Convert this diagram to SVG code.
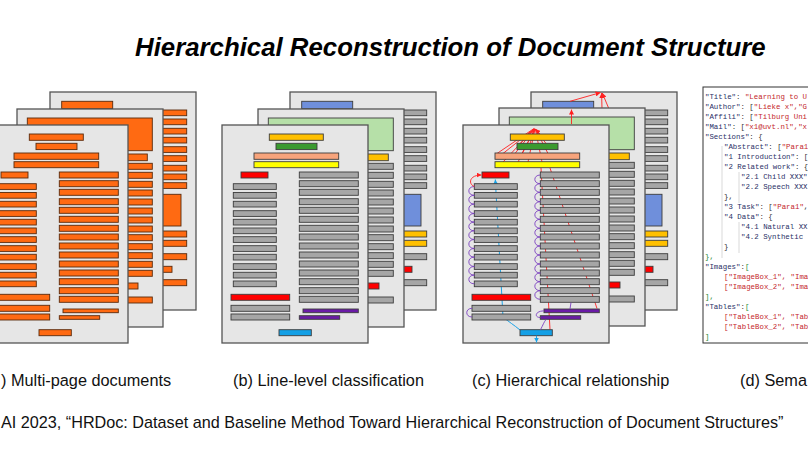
<svg xmlns="http://www.w3.org/2000/svg" xmlns:xlink="http://www.w3.org/1999/xlink" width="808" height="455" viewBox="0 0 808 455">
<style>
.page{fill:#e6e6e6;stroke:#555;stroke-width:1.3}
.bar{stroke:var(--bs,#3c3c3c);stroke-width:0.9}
.k-title{fill:var(--title,#ffc000)}
.k-auth{fill:var(--auth,#3b9a2f)}
.k-aff{fill:var(--aff,#f7a47c)}
.k-mail{fill:var(--mail,#ffff00)}
.k-sec{fill:var(--sec,#ff0000)}
.k-para{fill:var(--para,#a6a6a6)}
.k-cap{fill:var(--cap,#14a0e6)}
.k-foot{fill:var(--foot,#6a1ba6)}
.k-fig{fill:var(--fig,#b6e0a8)}
.k-tab{fill:var(--tab,#6f8fdb)}
.pa{--title:#ff6a12;--auth:#ff6a12;--aff:#ff6a12;--mail:#ff6a12;--sec:#ff6a12;--para:#ff6a12;--cap:#ff6a12;--foot:#ff6a12;--fig:#ff6a12;--tab:#ff6a12;--bs:#5a2a0c}
.title{font-family:"Liberation Sans",Arial,sans-serif;font-weight:bold;font-style:italic;font-size:25.8px;fill:#000}
.cap{font-family:"Liberation Sans",Arial,sans-serif;font-size:16.3px;fill:#111}
.cite{font-family:"Liberation Sans",Arial,sans-serif;font-size:16.2px;fill:#111}
.red{fill:none;stroke:#ff2020;stroke-width:0.9}
.cyan{fill:none;stroke:#1aa3e8;stroke-width:1}
.pur{fill:none;stroke:#7a3fc0;stroke-width:0.9}
.json{font-family:"Liberation Mono","DejaVu Sans Mono",monospace;font-size:7.4px;fill:#333}
.jk{fill:#2a2f66}
.jv{fill:#c4262b}
.jg{fill:#2a8a3a}
.guide{stroke:#cfcfcf;stroke-width:0.8}
</style>
<defs>
<marker id="ar" viewBox="0 0 10 10" refX="10" refY="5" markerWidth="5" markerHeight="5" markerUnits="userSpaceOnUse" orient="auto"><path d="M0,0 L10,5 L0,10 z" fill="#ff2020"/></marker>
<marker id="ac" viewBox="0 0 10 10" refX="10" refY="5" markerWidth="5" markerHeight="5" markerUnits="userSpaceOnUse" orient="auto"><path d="M0,0 L10,5 L0,10 z" fill="#1aa3e8"/></marker>
<g id="fb">
<rect class="bar k-title" x="47.3" y="9" width="54" height="6.3"/>
<rect class="bar k-auth" x="54" y="18.3" width="41" height="6.3"/>
<rect class="bar k-aff" x="32" y="28" width="84.7" height="6.3"/>
<rect class="bar k-mail" x="32" y="36.7" width="84.7" height="6"/>
<rect class="bar k-sec" x="19" y="47" width="27" height="6"/>
<rect class="bar k-para" x="11.3" y="58.7" width="43" height="5.7"/>
<rect class="bar k-para" x="11.3" y="67.5" width="43" height="5.7"/>
<rect class="bar k-para" x="11.3" y="76.3" width="43" height="5.7"/>
<rect class="bar k-para" x="11.3" y="85.7" width="43" height="5.7"/>
<rect class="bar k-para" x="11.3" y="94.3" width="43" height="5.7"/>
<rect class="bar k-para" x="11.3" y="103" width="43" height="5.7"/>
<rect class="bar k-para" x="11.3" y="111.7" width="43" height="5.7"/>
<rect class="bar k-para" x="11.3" y="120.7" width="43" height="5.7"/>
<rect class="bar k-para" x="11.3" y="129.3" width="43" height="5.7"/>
<rect class="bar k-para" x="11.3" y="138.7" width="43" height="5.7"/>
<rect class="bar k-para" x="11.3" y="147.3" width="43" height="5.7"/>
<rect class="bar k-para" x="11.3" y="156" width="43" height="5.7"/>
<rect class="bar k-sec" x="9" y="169.3" width="58.7" height="6"/>
<rect class="bar k-para" x="9" y="180.3" width="58.7" height="6"/>
<rect class="bar k-para" x="9" y="189" width="58.7" height="6"/>
<rect class="bar k-cap" x="57" y="204.7" width="32.3" height="6"/>
<rect class="bar k-para" x="77.3" y="47" width="59" height="6"/>
<rect class="bar k-para" x="77.3" y="55.7" width="59" height="6"/>
<rect class="bar k-para" x="77.3" y="64.3" width="59" height="6"/>
<rect class="bar k-para" x="77.3" y="73.7" width="59" height="6"/>
<rect class="bar k-para" x="77.3" y="82.3" width="59" height="6"/>
<rect class="bar k-para" x="77.3" y="91.3" width="59" height="6"/>
<rect class="bar k-para" x="77.3" y="100.3" width="59" height="6"/>
<rect class="bar k-para" x="77.3" y="109" width="59" height="6"/>
<rect class="bar k-para" x="77.3" y="118" width="59" height="6"/>
<rect class="bar k-para" x="77.3" y="127" width="59" height="6"/>
<rect class="bar k-para" x="77.3" y="136" width="59" height="6"/>
<rect class="bar k-para" x="77.3" y="145" width="59" height="6"/>
<rect class="bar k-para" x="77.3" y="153.7" width="59" height="6"/>
<rect class="bar k-para" x="77.3" y="162.7" width="59" height="6"/>
<rect class="bar k-para" x="77.3" y="171.3" width="59" height="6"/>
<rect class="bar k-foot" x="81" y="184" width="55.3" height="3.7"/>
<rect class="bar k-foot" x="77.3" y="190.7" width="40.4" height="3.6"/>
</g>
<g id="mb">
<rect class="bar k-fig" x="10.3" y="9" width="125" height="32.7"/>
<rect class="bar k-title" x="40" y="45" width="90.3" height="6.7"/>
<rect class="bar k-para" x="76" y="54.3" width="59.3" height="6"/>
<rect class="bar k-para" x="76" y="63.3" width="59.3" height="6"/>
<rect class="bar k-para" x="76" y="72.3" width="59.3" height="6"/>
<rect class="bar k-para" x="76" y="81" width="59.3" height="6"/>
<rect class="bar k-para" x="76" y="90" width="59.3" height="6"/>
<rect class="bar k-para" x="76" y="99" width="59.3" height="6"/>
<rect class="bar k-para" x="76" y="108" width="59.3" height="6"/>
<rect class="bar k-para" x="76" y="117" width="59.3" height="6"/>
<rect class="bar k-para" x="76" y="125.7" width="59.3" height="6"/>
<rect class="bar k-para" x="76" y="134.7" width="59.3" height="6"/>
<rect class="bar k-para" x="76" y="143.7" width="59.3" height="6"/>
<rect class="bar k-para" x="76" y="152.3" width="59.3" height="6"/>
<rect class="bar k-para" x="76" y="161.3" width="59.3" height="6"/>
<rect class="bar k-sec" x="76" y="174" width="45" height="6"/>
<rect class="bar k-para" x="76" y="188" width="59.3" height="6"/>
</g>
<g id="bb">
<rect class="bar k-tab" x="11.7" y="9.3" width="51" height="7.4"/>
<rect class="bar k-para" x="78" y="18" width="58.7" height="5.7"/>
<rect class="bar k-para" x="78" y="27" width="58.7" height="5.7"/>
<rect class="bar k-para" x="78" y="36.3" width="58.7" height="5.7"/>
<rect class="bar k-para" x="78" y="45.3" width="58.7" height="5.7"/>
<rect class="bar k-para" x="78" y="54.7" width="58.7" height="5.7"/>
<rect class="bar k-para" x="78" y="63.7" width="58.7" height="5.7"/>
<rect class="bar k-para" x="78" y="73.3" width="58.7" height="5.7"/>
<rect class="bar k-para" x="78" y="82" width="58.7" height="5.7"/>
<rect class="bar k-para" x="78" y="90.7" width="58.7" height="5.7"/>
<rect class="bar k-tab" x="78" y="102.3" width="53" height="31.7"/>
<rect class="bar k-title" x="78" y="139" width="58.7" height="6"/>
<rect class="bar k-title" x="78" y="148.3" width="58.7" height="6"/>
<rect class="bar k-para" x="78" y="161.7" width="58.7" height="6"/>
<rect class="bar k-sec" x="78" y="174.3" width="44" height="6"/>
<rect class="bar k-para" x="78" y="187.7" width="58.7" height="6"/>
</g>
</defs>

<text class="title" x="135" y="56">Hierarchical Reconstruction of Document Structure</text>

<g id="panel-a" class="pa">
<rect class="page" x="50" y="92" width="146" height="218"/>
<use href="#bb" x="50" y="92"/>
<rect class="page" x="17" y="109" width="146" height="218"/>
<use href="#mb" x="17" y="109"/>
<rect class="page" x="-18" y="125" width="146" height="218"/>
<use href="#fb" x="-18" y="125"/>
</g>

<g id="panel-b">
<rect class="page" x="290" y="92" width="146" height="218"/>
<use href="#bb" x="290" y="92"/>
<rect class="page" x="258" y="109" width="146" height="218"/>
<use href="#mb" x="258" y="109"/>
<rect class="page" x="222" y="125" width="146" height="218"/>
<use href="#fb" x="222" y="125"/>
</g>

<g id="panel-c">
<rect class="page" x="531" y="92" width="146" height="218"/>
<use href="#bb" x="531" y="92"/>
<g id="conn-back">
<path class="red" d="M570,101.3 L600.5,92.6" marker-end="url(#ar)"/>
<path class="red" d="M602,109 L601.6,93" marker-end="url(#ar)"/>
<path class="red" d="M609,109 L602.3,93" marker-end="url(#ar)"/>
</g>
<rect class="page" x="499" y="108" width="146" height="218"/>
<use href="#mb" x="499" y="108"/>
<path class="red" d="M571.5,124 L571.5,109.5" marker-end="url(#ar)"/>
<rect class="page" x="463" y="125" width="146" height="218"/>
<g id="conn-behind">
<path class="red" d="M497,153.5 L534,128.5 M503,153.5 L534.3,128.6 M515,153.5 L534.6,128.8 M522,153.5 L534.8,129 M548,153.5 L535.5,129 M520,143.5 L534.5,128.8 M530,143.5 L534.9,129 M546,143.5 L535.4,129 M503,162 L534.3,128.8 M518,162 L534.7,129 M528,162 L535,129 M542,162 L535.3,129 M528,134 L534.5,129 M540,134 L535.4,129" marker-end="url(#ar)"/>
<path class="red" d="M541,168 L550,329.5 M550,168 L597,308.5"/>
<path class="cyan" d="M520,330 C514,325 509,322 503,317 L495.3,179.5" marker-end="url(#ac)"/>
</g>
<use href="#fb" x="463" y="125"/>
<g id="conn-front">
<path class="pur" d="M474.3,186.5 C467,186.5 467,195.3 474.3,195.3 M474.3,195.3 C467,195.3 467,204.1 474.3,204.1 M474.3,204.1 C467,204.1 467,213.5 474.3,213.5 M474.3,213.5 C467,213.5 467,222.1 474.3,222.1 M474.3,222.1 C467,222.1 467,230.8 474.3,230.8 M474.3,230.8 C467,230.8 467,239.5 474.3,239.5 M474.3,239.5 C467,239.5 467,248.5 474.3,248.5 M474.3,248.5 C467,248.5 467,257.1 474.3,257.1 M474.3,257.1 C467,257.1 467,266.5 474.3,266.5 M474.3,266.5 C467,266.5 467,275.1 474.3,275.1 M474.3,275.1 C467,275.1 467,283.8 474.3,283.8"/>
<path class="pur" d="M540.3,175 C533,175 533,183.7 540.3,183.7 M540.3,183.7 C533,183.7 533,192.3 540.3,192.3 M540.3,192.3 C533,192.3 533,201.7 540.3,201.7 M540.3,201.7 C533,201.7 533,210.3 540.3,210.3 M540.3,210.3 C533,210.3 533,219.3 540.3,219.3 M540.3,219.3 C533,219.3 533,228.3 540.3,228.3 M540.3,228.3 C533,228.3 533,237 540.3,237 M540.3,237 C533,237 533,246 540.3,246 M540.3,246 C533,246 533,255 540.3,255 M540.3,255 C533,255 533,264 540.3,264 M540.3,264 C533,264 533,273 540.3,273 M540.3,273 C533,273 533,281.7 540.3,281.7 M540.3,281.7 C533,281.7 533,290.7 540.3,290.7 M540.3,290.7 C533,290.7 533,299.3 540.3,299.3"/>
<path class="pur" d="M472,308.3 C465,308.3 465,317 472,317 M544,310.9 C535,310.9 534,317.5 540.3,317.5 M540.5,329.7 C543,325 544,322 546,319.5 M570,309 L571,302.5"/>
<path class="red" d="M474.3,186.5 C468,184 469,175 481.5,175" marker-end="url(#ar)"/>
<path class="cyan" d="M536.5,335.8 L536.5,342.5" marker-end="url(#ac)"/>
</g>
</g>

<g id="panel-d">
<rect x="703" y="87" width="130" height="256" fill="#fff" stroke="#333" stroke-width="1"/>
<line class="guide" x1="722" y1="146" x2="722" y2="258"/>
<line class="guide" x1="739" y1="172" x2="739" y2="203"/>
<line class="guide" x1="739" y1="222" x2="739" y2="253"/>
<g class="json">
<text x="705" y="99"><tspan class="jk">"Title"</tspan>: <tspan class="jv">"Learning to U</tspan></text>
<text x="705" y="109"><tspan class="jk">"Author"</tspan>: [<tspan class="jv">"Lieke x","G</tspan></text>
<text x="705" y="119"><tspan class="jk">"Affili"</tspan>: [<tspan class="jv">"Tilburg Uni</tspan></text>
<text x="705" y="129"><tspan class="jk">"Mail"</tspan>: [<tspan class="jv">"x1@uvt.nl","x</tspan></text>
<text x="705" y="139"><tspan class="jk">"Sections"</tspan>: {</text>
<text x="724" y="149"><tspan class="jk">"Abstract"</tspan>: [<tspan class="jv">"Para1</tspan></text>
<text x="724" y="159"><tspan class="jk">"1 Introduction"</tspan>: [</text>
<text x="724" y="169"><tspan class="jk">"2 Related work"</tspan>: {</text>
<text x="741" y="179"><tspan class="jk">"2.1 Child XXX"</tspan></text>
<text x="741" y="189"><tspan class="jk">"2.2 Speech XXX</tspan></text>
<text x="724" y="199">},</text>
<text x="724" y="209"><tspan class="jk">"3 Task"</tspan>: [<tspan class="jv">"Para1"</tspan>,</text>
<text x="724" y="219"><tspan class="jk">"4 Data"</tspan>: {</text>
<text x="741" y="229"><tspan class="jk">"4.1 Natural XX</tspan></text>
<text x="741" y="239"><tspan class="jk">"4.2 Synthetic</tspan></text>
<text x="724" y="249">}</text>
<text x="705" y="259" class="jg">},</text>
<text x="705" y="269"><tspan class="jk">"Images"</tspan>:<tspan class="jg">[</tspan></text>
<text x="724" y="279" class="jv">["ImageBox_1", "Ima</text>
<text x="724" y="289" class="jv">["ImageBox_2", "Ima</text>
<text x="705" y="299" class="jg">],</text>
<text x="705" y="309"><tspan class="jk">"Tables"</tspan>:<tspan class="jg">[</tspan></text>
<text x="724" y="319" class="jv">["TableBox_1", "Tab</text>
<text x="724" y="329" class="jv">["TableBox_2", "Tab</text>
<text x="705" y="339" class="jg">]</text>
</g>
</g>

<g id="captions">
<text class="cap" x="1" y="386">) Multi-page documents</text>
<text class="cap" x="233" y="386">(b) Line-level classification</text>
<text class="cap" x="472" y="386">(c) Hierarchical relationship</text>
<text class="cap" x="740" y="386">(d) Sema</text>
<text class="cite" x="1" y="428">AI 2023, “HRDoc: Dataset and Baseline Method Toward Hierarchical Reconstruction of Document Structures”</text>
</g>
</svg>
